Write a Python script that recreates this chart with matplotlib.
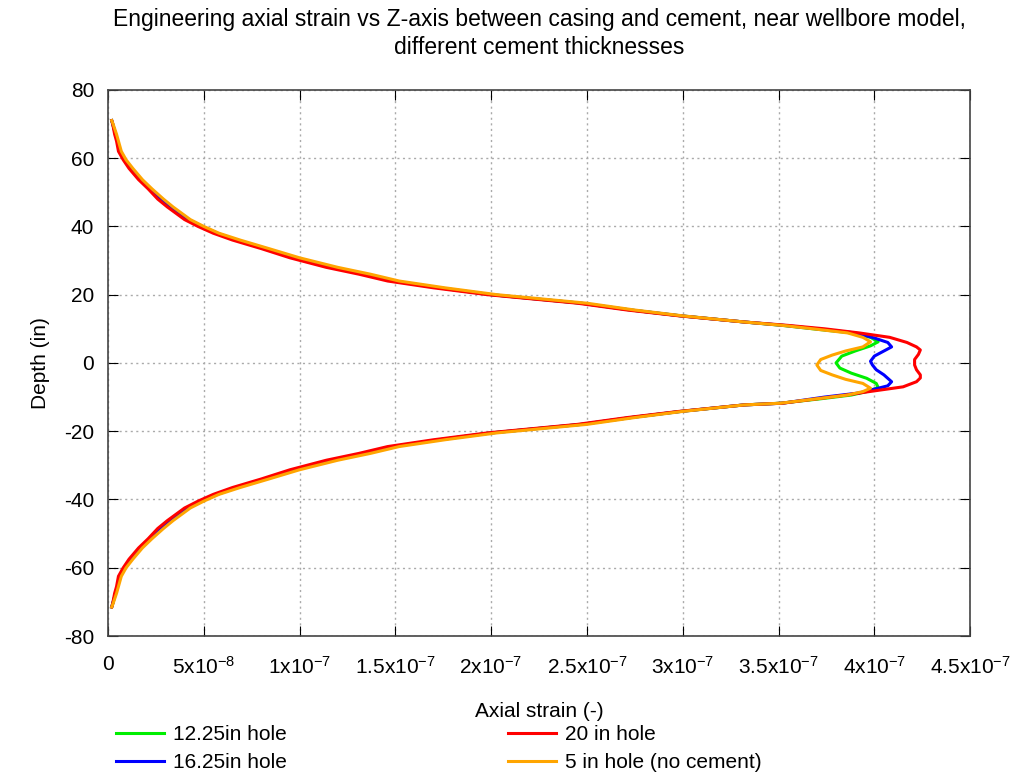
import numpy as np
import matplotlib.pyplot as plt
from matplotlib.ticker import MultipleLocator

plt.rcParams['font.family'] = ['Liberation Sans', 'DejaVu Sans']
plt.rcParams['mathtext.fontset'] = 'custom'
plt.rcParams['mathtext.rm'] = 'Liberation Sans'
plt.rcParams['mathtext.default'] = 'regular'
plt.rcParams['axes.unicode_minus'] = False

# Depth (in) on the upper and lower tails, shared by all runs
depth_up = [71, 70, 67, 65, 62, 59.5, 57, 53.7, 51, 48, 45.7, 42, 40, 38, 36, 33.5, 30.8,
            28, 26, 24, 22, 20, 17.5, 15.5, 13.8, 12]
depth_low = [-12.3, -14.2, -16, -18, -20.5, -22.5, -24.5, -26.5, -28.5, -31.3, -34, -36.5,
             -38.5, -40.5, -42.5, -46.2, -48.5, -51.5, -54.2, -57.5, -60, -62.5, -65.5,
             -67.5, -70.5, -71.5]

# Axial strain on the tails (x1e-7)
green_up = [0.02, 0.025, 0.04, 0.05, 0.06, 0.09, 0.12, 0.17, 0.22, 0.28, 0.33, 0.42, 0.49,
            0.57, 0.67, 0.82, 0.98, 1.17, 1.34, 1.49, 1.73, 2.00, 2.47, 2.73, 2.99, 3.32]
blue_up = [0.02, 0.025, 0.04, 0.05, 0.06, 0.09, 0.12, 0.17, 0.22, 0.28, 0.33, 0.42, 0.49,
           0.57, 0.67, 0.82, 0.98, 1.17, 1.34, 1.49, 1.73, 2.00, 2.47, 2.73, 2.99, 3.32]
red_up = [0.02, 0.025, 0.035, 0.045, 0.055, 0.08, 0.11, 0.16, 0.21, 0.26, 0.31, 0.40, 0.47,
          0.55, 0.65, 0.80, 0.95, 1.14, 1.31, 1.46, 1.70, 1.98, 2.45, 2.71, 2.98, 3.32]
orange_up = [0.02, 0.027, 0.045, 0.055, 0.07, 0.095, 0.13, 0.18, 0.23, 0.29, 0.34, 0.43, 0.50,
             0.58, 0.69, 0.84, 1.00, 1.20, 1.37, 1.52, 1.76, 2.03, 2.50, 2.75, 3.00, 3.32]

green_low = [3.32, 2.99, 2.73, 2.47, 2.00, 1.73, 1.49, 1.34, 1.17, 0.98, 0.82, 0.67, 0.57,
             0.49, 0.42, 0.33, 0.28, 0.22, 0.17, 0.12, 0.09, 0.06, 0.05, 0.04, 0.025, 0.02]
blue_low = [3.32, 2.99, 2.73, 2.47, 2.00, 1.73, 1.49, 1.34, 1.17, 0.98, 0.82, 0.67, 0.57,
            0.49, 0.42, 0.33, 0.28, 0.22, 0.17, 0.12, 0.09, 0.06, 0.05, 0.04, 0.025, 0.02]
red_low = [3.32, 2.98, 2.71, 2.45, 1.98, 1.70, 1.46, 1.31, 1.14, 0.95, 0.80, 0.65, 0.55,
           0.47, 0.40, 0.31, 0.26, 0.21, 0.16, 0.11, 0.08, 0.055, 0.045, 0.035, 0.025, 0.02]
orange_low = [3.32, 3.00, 2.75, 2.50, 2.03, 1.76, 1.52, 1.37, 1.20, 1.00, 0.84, 0.69, 0.58,
              0.50, 0.43, 0.34, 0.29, 0.23, 0.18, 0.13, 0.095, 0.07, 0.055, 0.045, 0.027, 0.02]

# Peak zone, one set per run
green_pk_d = [11, 10, 8.8, 7.5, 6.2, 5, 3.5, 2, 0, -1.5, -3, -4.5, -6, -7.2, -8.4, -9.4, -10.5, -11.8]
green_pk = [3.52, 3.68, 3.88, 3.98, 4.02, 3.98, 3.90, 3.83, 3.80, 3.82, 3.88, 3.96, 4.01, 4.02,
            3.96, 3.88, 3.72, 3.51]
blue_pk_d = [11, 10, 8.8, 7.3, 6, 4.7, 3.5, 2, 0.5, -0.6, -2, -3.5, -5.5, -6.7, -7.7, -8.8, -10, -11.8]
blue_pk = [3.53, 3.70, 3.90, 4.00, 4.07, 4.09, 4.05, 4.00, 3.98, 3.99, 4.01, 4.05, 4.09, 4.07,
           4.00, 3.92, 3.74, 3.52]
red_pk_d = [11, 10, 8.8, 7.5, 6, 4.7, 3.8, 2.5, 1, -0.6, -2, -3.5, -4.4, -5.5, -7, -8.5, -9.5, -10.5, -11.8]
red_pk = [3.55, 3.74, 3.92, 4.08, 4.17, 4.22, 4.24, 4.23, 4.21, 4.21, 4.22, 4.24, 4.24, 4.22,
          4.15, 3.96, 3.84, 3.70, 3.52]
orange_pk_d = [11, 10, 8.8, 7.5, 6.2, 4.7, 3.5, 2.3, 1, -0.6, -2.2, -3.5, -4.8, -6, -7.4, -8.4, -9.4, -10.5, -11.8]
orange_pk = [3.52, 3.68, 3.86, 3.94, 3.98, 3.94, 3.85, 3.78, 3.72, 3.70, 3.72, 3.78, 3.85, 3.94,
             3.98, 3.94, 3.86, 3.70, 3.51]

labels = ['12.25in hole', '16.25in hole', '20 in hole', '5 in hole (no cement)']
colors = ['#00ee00', '#0000ff', '#ff0000', '#ffa500']

runs = [
    (green_up, green_pk_d, green_pk, green_low),
    (blue_up, blue_pk_d, blue_pk, blue_low),
    (red_up, red_pk_d, red_pk, red_low),
    (orange_up, orange_pk_d, orange_pk, orange_low),
]

xticks = [0, 0.5, 1, 1.5, 2, 2.5, 3, 3.5, 4, 4.5]
xticklabels = ['0', '5x10$^{-8}$', '1x10$^{-7}$', '1.5x10$^{-7}$', '2x10$^{-7}$',
               '2.5x10$^{-7}$', '3x10$^{-7}$', '3.5x10$^{-7}$', '4x10$^{-7}$', '4.5x10$^{-7}$']

fig = plt.figure(figsize=(10.18, 7.78), dpi=100)
ax = fig.add_axes([0.106, 0.1825, 0.847, 0.702])

handles = []
for (up, pkd, pk, low), lab, c in zip(runs, labels, colors):
    d = np.concatenate([depth_up, pkd, depth_low])
    s = np.concatenate([up, pk, low]) * 1e-7
    h, = ax.plot(s, d, color=c, lw=2.2, label=lab)
    handles.append(h)

ax.set_xlim(0, 4.5e-7)
ax.set_ylim(-80, 80)
ax.set_xticks([t * 1e-7 for t in xticks])
ax.set_xticklabels(xticklabels)
ax.yaxis.set_major_locator(MultipleLocator(20))
ax.tick_params(direction='in', length=7, labelsize=15, top=True, right=True)
ax.tick_params(axis='x', pad=14)
ax.tick_params(axis='y', pad=10)
ax.grid(True, color='#aaaaaa', linestyle=(0, (1.5, 2.5)), linewidth=1)
for sp in ax.spines.values():
    sp.set_color('#444444')
    sp.set_linewidth(1.2)

ax.set_ylabel('Depth (in)', fontsize=15, labelpad=10)
ax.set_xlabel('Axial strain (-)', fontsize=15, labelpad=18)
ax.set_title('Engineering axial strain vs Z-axis between casing and cement, near wellbore model,\n'
             'different cement thicknesses', fontsize=16.5, pad=26, linespacing=1.25)

fig.legend(handles=handles, loc='upper left', bbox_to_anchor=(0.114, 0.068),
           ncol=2, frameon=False, fontsize=15, columnspacing=10.6, handlelength=2.3,
           handletextpad=0.45, labelspacing=0.45, borderpad=0, borderaxespad=0)

fig.savefig('out.png', dpi=100)
